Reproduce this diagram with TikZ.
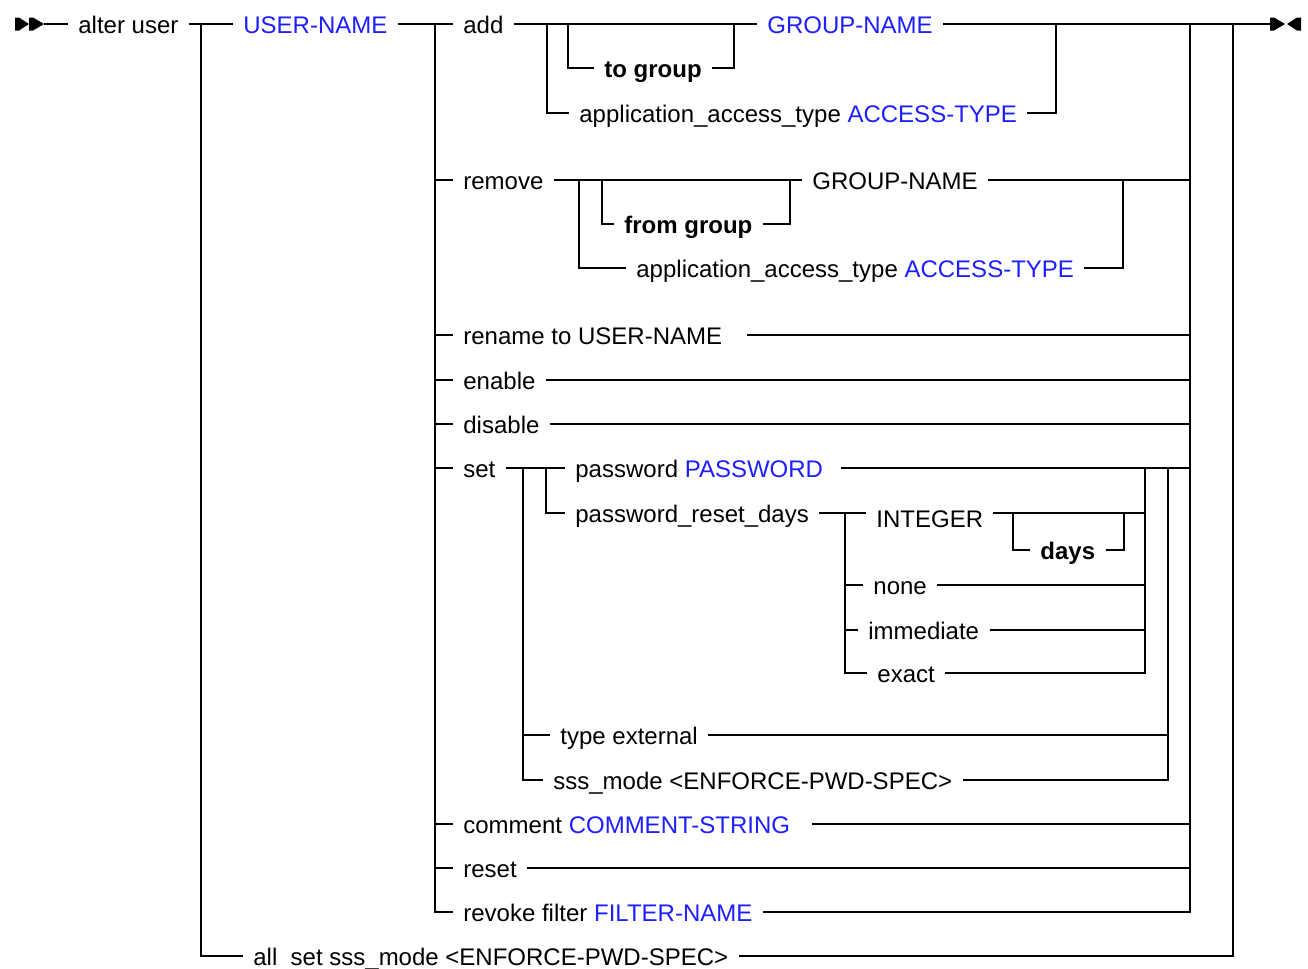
\documentclass[tikz,border=0pt]{standalone}
\usepackage{fontspec}
\setmainfont{Liberation Sans}
\definecolor{ublue}{RGB}{30,30,255}
\begin{document}
\begin{tikzpicture}[x=0.5pt,y=-0.5pt,
  rail/.style={line width=0.8pt},
  kw/.style={anchor=west, inner xsep=5pt, inner ysep=0pt, text height=9pt,
    text depth=0pt, font=\fontsize{12}{14}\selectfont},
  bkw/.style={kw, font=\fontsize{12}{14}\selectfont\bfseries},
  ph/.style={kw, text=ublue},
  tip/.style={fill=black}]
\fill[white] (0,0) rectangle (1308,969);
\useasboundingbox (0,0) rectangle (1308,969);

% ---- text nodes ----
\node[kw]  (altr) at (68,24)   {alter user};
\node[ph]  (un)   at (233,24)  {USER-NAME};
\node[kw]  (add)  at (453,24)  {add};
\node[ph]  (gn)   at (757,24)  {GROUP-NAME};
\node[bkw] (tg)   at (594,68)  {to group};
\node[kw]  (aa1)  at (569,113) {application\_access\_type \textcolor{ublue}{ACCESS-TYPE}};
\node[kw]  (rm)   at (453,180) {remove};
\node[kw]  (rg)   at (802,180) {GROUP-NAME};
\node[bkw] (fg)   at (614,224) {from group};
\node[kw]  (aa2)  at (626,268) {application\_access\_type \textcolor{ublue}{ACCESS-TYPE}};
\node[kw]  (rn)   at (453,335) {rename to USER-NAME\kern7pt};
\node[kw]  (enb)  at (453,380) {enable};
\node[kw]  (dis)  at (453,424) {disable};
\node[kw]  (set)  at (453,468) {set};
\node[kw]  (pw)   at (565,468) {password \textcolor{ublue}{PASSWORD}\kern4pt};
\node[kw]  (prd)  at (565,513) {password\_reset\_days};
\node[kw]  (int)  at (866,518) {INTEGER};
\node[bkw] (dy)   at (1030,550) {days};
\node[kw]  (nn)   at (863,585) {none};
\node[kw]  (im)   at (858,630) {immediate};
\node[kw]  (ex)   at (867,673) {exact};
\node[kw]  (te)   at (550,735) {type external};
\node[kw]  (sm)   at (543,780) {sss\_mode <ENFORCE-PWD-SPEC>};
\node[kw]  (cm)   at (453,824) {comment \textcolor{ublue}{COMMENT-STRING}\kern6pt};
\node[kw]  (rs)   at (453,868) {reset};
\node[kw]  (rv)   at (453,912) {revoke filter \textcolor{ublue}{FILTER-NAME}};
\node[kw]  (all)  at (243,956) {all\ \ set sss\_mode <ENFORCE-PWD-SPEC>};

% ---- rail junctions ----
\coordinate (st) at (44,24);
\coordinate (en) at (1270,24);
\coordinate (a1) at (201,24);
\coordinate (a2) at (1233,24);
\coordinate (b1) at (435,24);
\coordinate (b2) at (1190,24);
\coordinate (c1) at (547,24);
\coordinate (c2) at (568,24);
\coordinate (c3) at (734,24);
\coordinate (c4) at (1056,24);
\coordinate (d1) at (579,180);
\coordinate (d2) at (602,180);
\coordinate (d3) at (790,180);
\coordinate (d4) at (1123,180);
\coordinate (e1) at (523,468);
\coordinate (e2) at (546,468);
\coordinate (e3) at (1145,468);
\coordinate (e4) at (1168,468);
\coordinate (f1) at (845,513);
\coordinate (g1) at (1013,513);
\coordinate (g2) at (1124,513);

% ---- start and end markers ----
\fill[tip] (15,17.5) -- (19,17.5) -- (29,24) -- (19,30.5) -- (15,30.5) -- cycle;
\fill[tip] (29,17.5) -- (33,17.5) -- (44,24) -- (33,30.5) -- (29,30.5) -- cycle;
\fill[tip] (1270,17.5) -- (1274,17.5) -- (1285,24) -- (1274,30.5) -- (1270,30.5) -- cycle;
\fill[tip] (1301,17.5) -- (1297,17.5) -- (1287,24) -- (1297,30.5) -- (1301,30.5) -- cycle;

% ---- main line ----
\draw[rail] (st) -- (altr.west);
\draw[rail] (altr.east) -- (un.west);
\draw[rail] (un.east) -- (add.west);
\draw[rail] (add.east) -- (gn.west);
\draw[rail] (gn.east) -- (en);

% user name or all
\draw[rail] (a1) |- (all.west);
\draw[rail] (all.east) -| (a2);

% actions
\draw[rail] (b1) |- (rv.west);
\draw[rail] (rv.east) -| (b2);

% add
\draw[rail] (c1) |- (aa1.west);
\draw[rail] (aa1.east) -| (c4);
\draw[rail] (c2) |- (tg.west);
\draw[rail] (tg.east) -| (c3);

% remove
\draw[rail] (b1 |- rm.west) -- (rm.west);
\draw[rail] (rm.east) -- (rg.west);
\draw[rail] (rg.east) -- (rg.east -| b2);
\draw[rail] (d2) |- (fg.west);
\draw[rail] (fg.east) -| (d3);
\draw[rail] (d1) |- (aa2.west);
\draw[rail] (aa2.east) -| (d4);

% rename, enable, disable
\draw[rail] (b1 |- rn.west) -- (rn.west);
\draw[rail] (rn.east) -- (rn.east -| b2);
\draw[rail] (b1 |- enb.west) -- (enb.west);
\draw[rail] (enb.east) -- (enb.east -| b2);
\draw[rail] (b1 |- dis.west) -- (dis.west);
\draw[rail] (dis.east) -- (dis.east -| b2);

% set
\draw[rail] (b1 |- set.west) -- (set.west);
\draw[rail] (set.east) -- (pw.west);
\draw[rail] (pw.east) -- (pw.east -| b2);
\draw[rail] (e2) |- (prd.west);
\draw[rail] (e1) |- (sm.west);
\draw[rail] (e1 |- te.west) -- (te.west);
\draw[rail] (te.east) -| (e4);
\draw[rail] (sm.east) -| (e4);

% password reset days
\draw[rail] (prd.east) -- (f1);
\draw[rail] (f1) -- (f1 -| int.west);
\draw[rail] (int.east |- f1) -- (g2);
\draw[rail] (g2) -- (e3 |- f1);
\draw[rail] (g1) |- (dy.west);
\draw[rail] (dy.east) -| (g2);
\draw[rail] (f1) |- (ex.west);
\draw[rail] (f1 |- nn.west) -- (nn.west);
\draw[rail] (f1 |- im.west) -- (im.west);
\draw[rail] (nn.east) -- (nn.east -| e3);
\draw[rail] (im.east) -- (im.east -| e3);
\draw[rail] (ex.east) -| (e3);

% comment, reset
\draw[rail] (b1 |- cm.west) -- (cm.west);
\draw[rail] (cm.east) -- (cm.east -| b2);
\draw[rail] (b1 |- rs.west) -- (rs.west);
\draw[rail] (rs.east) -- (rs.east -| b2);
\end{tikzpicture}
\end{document}
